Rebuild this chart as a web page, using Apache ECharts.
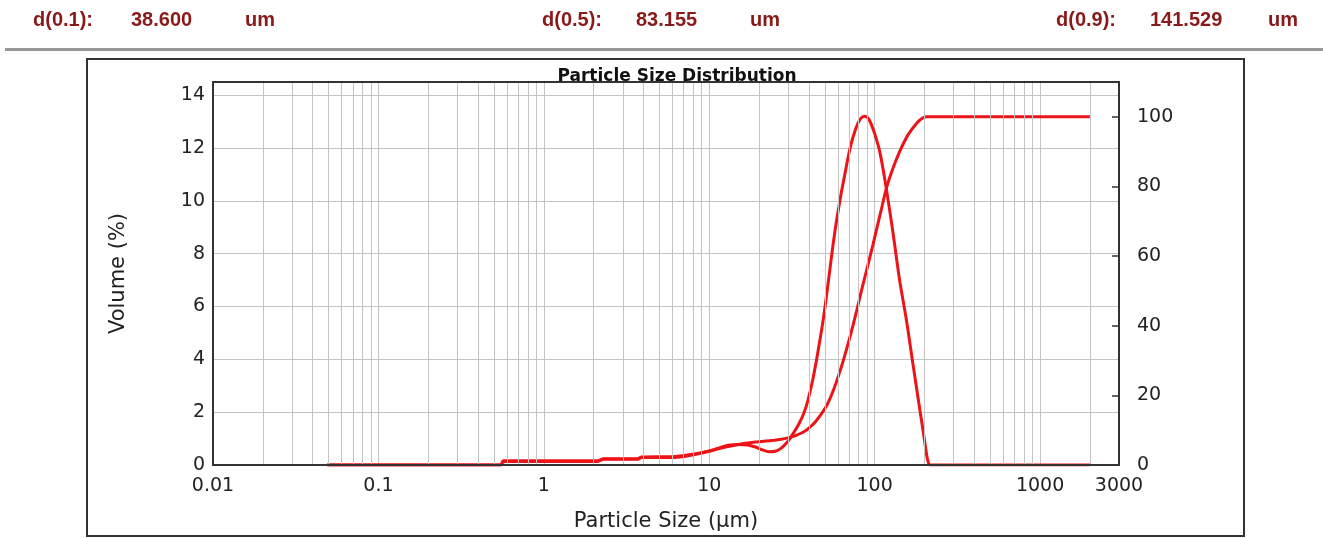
<!DOCTYPE html>
<html>
<head>
<meta charset="utf-8">
<script src="https://cdn.jsdelivr.net/npm/echarts@6/dist/echarts.min.js"></script>
<style>
  html, body { margin: 0; padding: 0; background: #ffffff; }
  #chart { width: 1323px; height: 538px; }
</style>
</head>
<body>
<div id="chart"></div>
<script>
// Percentile summary shown in the header strip
const pctLabels = ['d(0.1):', 'd(0.5):', 'd(0.9):'];
const pctValues = ['38.600', '83.155', '141.529'];
const pctUnit = 'um';

// Particle size axis range (µm)
const sizeMin = 0.01;
const sizeMax = 3000;

// Volume density (%) per particle size (µm)
const densitySizes = [0.049, 0.5, 0.55, 0.57, 2.1, 2.3, 3.7, 3.9, 6, 7, 8.5, 10, 11.5, 13, 15, 17, 19, 21, 23, 25, 27, 29.5, 32, 35, 37.5, 39.5, 42, 44.5, 47, 49, 52, 55, 58, 62, 66, 71, 77, 82, 87, 92, 96, 100, 107, 116, 129, 141.5, 155.5, 170.6, 187, 200, 206, 211, 216, 2000];
const densityValues = [0, 0, 0, 0.13, 0.13, 0.22, 0.22, 0.28, 0.28, 0.32, 0.42, 0.52, 0.65, 0.75, 0.78, 0.76, 0.68, 0.57, 0.5, 0.52, 0.62, 0.85, 1.17, 1.58, 2.0, 2.45, 3.15, 3.97, 4.85, 5.55, 6.75, 7.95, 9.0, 10.1, 11.0, 12.0, 12.75, 13.1, 13.2, 13.1, 12.85, 12.55, 11.9, 10.7, 8.8, 7.0, 5.5, 3.8, 2.15, 0.95, 0.4, 0.1, 0, 0];

// Cumulative volume (%) per particle size (µm)
const cumulativeSizes = [0.049, 0.5, 0.55, 0.57, 2.1, 2.3, 3.7, 3.9, 6, 7, 8.5, 10, 11.5, 13, 15, 17, 19, 22, 24.5, 26.7, 30, 32, 35, 38.6, 40.5, 44, 51, 56, 61.4, 66, 72.3, 78, 83.155, 90, 97.7, 105, 110, 117.8, 129, 141.529, 155.4, 166, 178.6, 188, 196, 205, 2000];
const cumulativeValues = [0, 0, 0, 1.2, 1.2, 1.8, 1.8, 2.3, 2.4, 2.7, 3.3, 4.0, 4.7, 5.3, 5.9, 6.3, 6.6, 6.9, 7.1, 7.3, 7.8, 8.15, 8.9, 10.0, 10.8, 12.5, 16.9, 21.2, 26.6, 31.5, 38.3, 44.5, 50.0, 56.5, 63.3, 69.6, 73.6, 79.5, 85.2, 90.0, 94.0, 96.1, 98.0, 99.1, 99.7, 100, 100];

// Log-scale grid: every 2..9 multiple within each decade
const decades = [0.01, 0.1, 1, 10, 100, 1000];
const minorGrid = [];
decades.forEach(function (d) {
  for (let m = 2; m <= 9; m++) {
    const v = +(d * m).toPrecision(6);
    if (v < sizeMax) minorGrid.push(v);
  }
});

const zip = (xs, ys) => xs.map((x, i) => [x, ys[i]]);

const FONT = 'DejaVu Sans';
const RED = '#ec1418';
const DARK_RED = '#8a1a1a';
const GRID_GREY = '#c4c4c4';

const chart = echarts.init(document.getElementById('chart'), null, { renderer: 'canvas' });

// Header strip text elements
const headerX = [[33, 131, 245], [542, 636, 750], [1056, 1150, 1268]];
const headerGraphics = [];
pctLabels.forEach(function (lab, i) {
  const texts = [lab, pctValues[i], pctUnit];
  texts.forEach(function (t, j) {
    headerGraphics.push({
      type: 'text', left: headerX[i][j], top: 10,
      style: { text: t, fill: DARK_RED, font: 'bold 20px "Liberation Sans", Arial, sans-serif' },
      silent: true
    });
  });
});

const option = {
  backgroundColor: '#ffffff',
  animation: false,
  title: {
    text: 'Particle Size Distribution',
    left: 672, top: 63, textAlign: 'center',
    textStyle: { fontFamily: FONT, fontWeight: 'bold', fontSize: 17, color: '#111' }
  },
  graphic: headerGraphics.concat([
    { type: 'rect', shape: { x: 5, y: 48, width: 1318, height: 3 }, style: { fill: '#989898' }, silent: true },
    { type: 'rect', shape: { x: 87, y: 59, width: 1157, height: 477 }, style: { fill: 'none', stroke: '#333', lineWidth: 2 }, silent: true, z: 0 }
  ]),
  grid: {
    left: 213, top: 82, width: 906, height: 383,
    show: true, borderColor: '#333', borderWidth: 2, backgroundColor: 'transparent', z: 10
  },
  xAxis: {
    type: 'log', logBase: 10, min: sizeMin, max: sizeMax,
    name: 'Particle Size (μm)', nameLocation: 'middle', nameGap: 46,
    nameTextStyle: { fontFamily: FONT, fontSize: 21, color: '#222' },
    axisLine: { show: true, lineStyle: { color: '#333', width: 2 } },
    axisTick: { show: false },
    axisLabel: {
      interval: 0, margin: 12, fontFamily: FONT, fontSize: 19, color: '#222',
      formatter: function (v) { return String(+(+v).toPrecision(6)); }
    },
    splitLine: { show: true, lineStyle: { color: GRID_GREY, width: 1 } }
  },
  yAxis: [
    {
      type: 'value', min: 0, max: 14.5, interval: 2, position: 'left',
      name: 'Volume (%)', nameLocation: 'middle', nameGap: 84,
      nameTextStyle: { fontFamily: FONT, fontSize: 21, color: '#222' },
      axisLine: { show: true, lineStyle: { color: '#333', width: 2 } },
      axisTick: { show: false },
      axisLabel: {
        margin: 8, fontFamily: FONT, fontSize: 19, color: '#222',
        formatter: function (v) { return v % 2 === 0 ? String(v) : ''; }
      },
      splitLine: { show: true, lineStyle: { color: GRID_GREY, width: 1 } }
    },
    {
      type: 'value', min: 0, max: 110, interval: 20, position: 'right',
      axisLine: { show: true, lineStyle: { color: '#333', width: 2 } },
      axisTick: { show: true, inside: true, length: 7, lineStyle: { color: '#333', width: 1.5 } },
      axisLabel: {
        margin: 18, fontFamily: FONT, fontSize: 19, color: '#222',
        formatter: function (v) { return v % 20 === 0 ? String(v) : ''; }
      },
      splitLine: { show: false }
    }
  ],
  series: [
    {
      name: 'grid', type: 'line', data: [], z: 1, silent: true,
      markLine: {
        silent: true, symbol: ['none', 'none'], label: { show: false },
        lineStyle: { color: GRID_GREY, width: 1, type: 'solid' },
        animation: false,
        data: minorGrid.map(function (v) { return { xAxis: v }; })
      }
    },
    {
      name: 'Volume density', type: 'line', yAxisIndex: 0, z: 3,
      data: zip(densitySizes, densityValues),
      showSymbol: false, smooth: 0.3,
      lineStyle: { color: RED, width: 3 }, itemStyle: { color: RED }
    },
    {
      name: 'Cumulative volume', type: 'line', yAxisIndex: 1, z: 3,
      data: zip(cumulativeSizes, cumulativeValues),
      showSymbol: false, smooth: 0.3,
      lineStyle: { color: RED, width: 3 }, itemStyle: { color: RED }
    }
  ]
};

chart.setOption(option);
</script>
</body>
</html>
